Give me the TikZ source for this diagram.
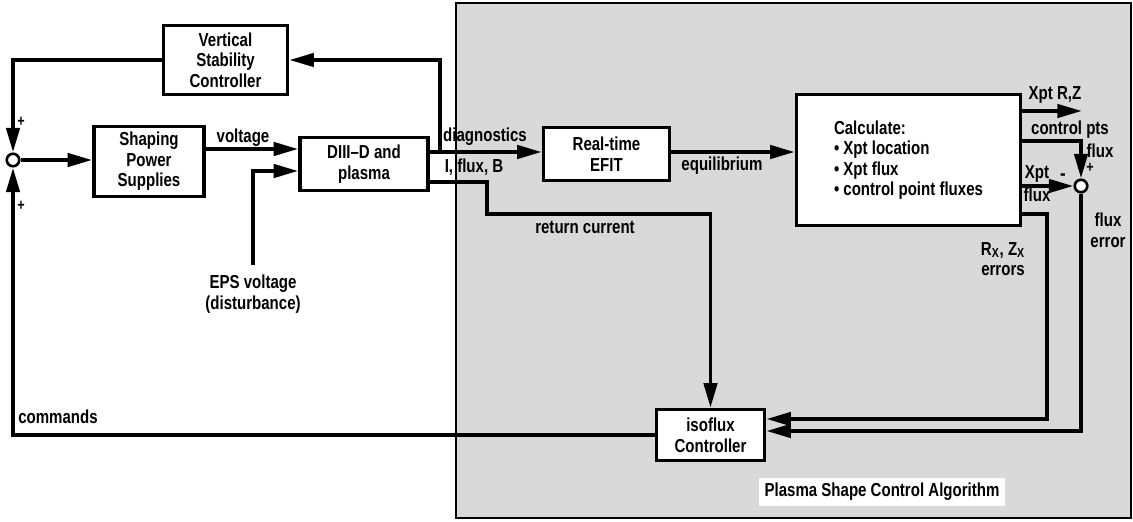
\documentclass[tikz,border=0pt]{standalone}
\usepackage{fontspec}
\setmainfont{Liberation Sans}[FakeStretch=0.8]
\usepackage{tikz}
\usetikzlibrary{arrows.meta}
\usepackage{xcolor}
\definecolor{algoshade}{RGB}{217,217,217}

\begin{document}
\begin{tikzpicture}[
    x=0.02cm, y=-0.02cm,
    every node/.style = {
      align=center,
      font=\bfseries\fontsize{10.7}{11.7}\selectfont
    },
    block/.style = {
      shape=rectangle,
      draw,
      fill=white,
      line width=2pt
    },
    sum/.style = {
      shape=circle,
      draw,
      fill=white,
      line width=1.5pt,
      minimum size=0.25cm,
      inner sep=0pt
    },
    arrow/.style = {
      -{Triangle[length=14pt, width=7.5pt]},
      line width=2.2pt
    },
    sign/.style = {
      font=\bfseries\small,
      inner sep=0pt
    }
  ]

    \useasboundingbox (0,0) rectangle (1133,521);

    % Shaded algorithm region
    \draw[fill=algoshade, line width=1pt] (456,3) rectangle (1131,518);
    \node[fill=white, inner sep=3pt] (algo) at (882,492) {Plasma Shape Control Algorithm};

    % Left hand loop
    \node[sum] (sum1) at (13,160) {};
    \node[block, minimum width=2.48cm, minimum height=1.38cm] (vsc) at (225.5,60)
      {Vertical\\Stability\\Controller};
    \node[block, minimum width=2.2cm, minimum height=1.2cm] (sps) at (149,161.5)
      {Shaping\\Power\\Supplies};
    \node[block, minimum width=2.56cm, minimum height=1.06cm] (diiid) at (364,164)
      {DIII--D and\\plasma};

    % Algorithm blocks
    \node[block, minimum width=2.52cm, minimum height=1.06cm] (efit) at (606.5,154)
      {Real-time\\EFIT};
    \node[block, minimum width=4.48cm, minimum height=2.62cm, align=left] (calc) at (908.5,160)
      {Calculate:\\\textbullet{} Xpt location\\\textbullet{} Xpt flux\\\textbullet{} control point fluxes};
    \node[sum] (sum2) at (1081,186) {};
    \node[block, minimum width=2.16cm, minimum height=1.02cm] (iso) at (710.5,435)
      {isoflux\\Controller};

    % Turning points
    \coordinate (eps) at (253,265);
    \coordinate (tap) at (440,152);
    \coordinate (ret) at (487,214);
    \coordinate (xrz) at (1082,111);
    \coordinate (rxzerr) at (1047,419);

    % Labels
    \node[sign] at (21,122) {+};
    \node[sign] at (21,206) {+};
    \node[sign] at (1090,168) {+};
    \node[sign, font=\bfseries\large] at (1063,177) {-};
    \node (voltage) at (243,138) {voltage};
    \node (epsv) at (253,294) {EPS voltage\\(disturbance)};
    \node (diag) at (485,137) {diagnostics};
    \node (ifb) at (474,167) {I, flux, B};
    \node (equil) at (722,166) {equilibrium};
    \node (retcur) at (585,227) {return current};
    \node (xptrz) at (1055,95) {Xpt R,Z};
    \node (ctrlpts) at (1070,130) {control pts};
    \node (ctrlflux) at (1100,151) {flux};
    \node[inner sep=0pt, font=\bfseries\fontsize{10.7}{13}\selectfont] (xptflux) at (1037,184) {Xpt\\flux};
    \node (rxz) at (1003,259) {R\textsubscript{X}, Z\textsubscript{X}\\errors};
    \node (fluxerr) at (1108,230) {flux\\error};
    \node (cmds) at (58,417) {commands};

    % Arrows
    \draw[arrow] (sum1.east) -- (sum1.east -| sps.west);
    \draw[arrow] (sps.east |- 0,149) -- (diiid.west |- 0,149);
    \draw[arrow] (eps) |- (diiid.west |- 0,171);
    \draw[arrow] (diiid.east |- tap) -- (efit.west |- tap);
    \draw[arrow] (tap) |- (vsc.east);
    \draw[arrow] (vsc.west) -| (sum1.north);
    \draw[arrow] (diiid.east |- 0,182) -| (ret) -| (iso.north);
    \draw[arrow] (efit.east |- tap) -- (calc.west |- tap);
    \draw[arrow] (calc.east |- xrz) -- (xrz);
    \draw[arrow] (calc.east |- 0,141) -| (sum2.north);
    \draw[arrow] (calc.east |- sum2) -- (sum2.west);
    \draw[arrow] (calc.east |- 0,214) -| (rxzerr) -- (iso.east |- rxzerr);
    \draw[arrow] (sum2.south) |- (iso.east |- 0,431);
    \draw[arrow] (iso.west) -| (sum1.south);

  \end{tikzpicture}
\end{document}
